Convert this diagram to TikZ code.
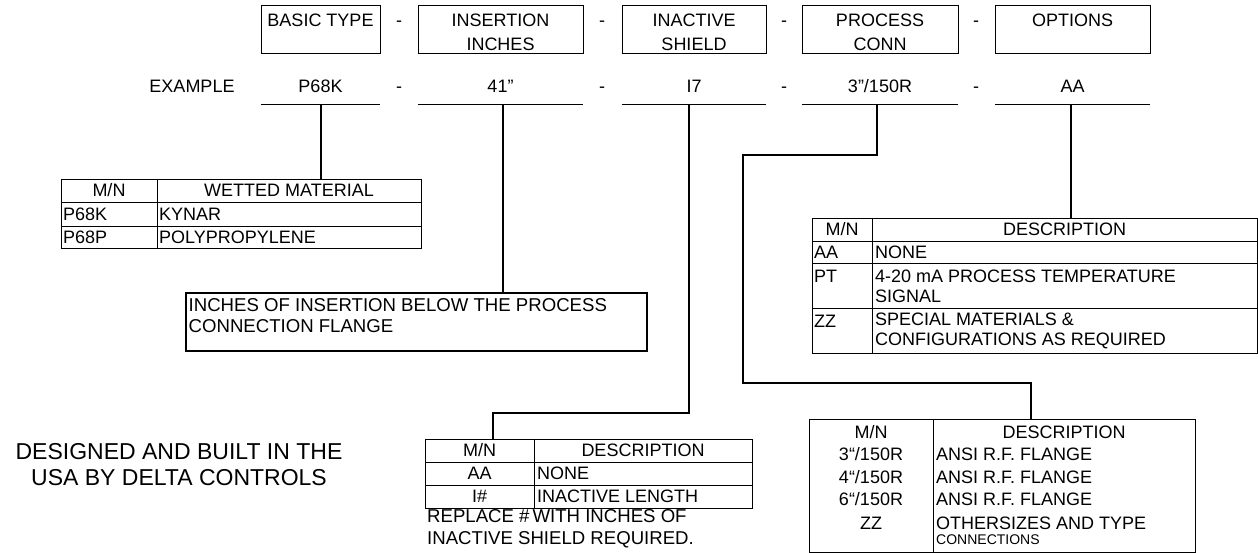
\documentclass[tikz,border=0pt]{standalone}
\usepackage{fontspec}
\setmainfont{Liberation Sans}
\usetikzlibrary{calc,positioning}
\tikzset{
  gridline/.style={draw=black,line width=0.9pt},
  leadline/.style={draw=black,line width=1.8pt},
  hdrtext/.style={font=\fontsize{18}{24}\selectfont,align=center,inner sep=0pt},
  celltext/.style={font=\fontsize{18}{20.5}\selectfont,inner sep=0pt},
  smalltext/.style={font=\fontsize{14}{16}\selectfont,inner sep=0pt},
}
% one code column: name, left x, right x, heading, example value, lead x
\newcommand{\codecol}[6]{%
  \draw[gridline] (#2,5) rectangle (#3,53);
  \node[hdrtext,anchor=north] (#1head) at ({(#2+#3)/2},13.5) {#4};
  \node[hdrtext] (#1val) at ({(#2+#3)/2},86) {#5};
  \draw[gridline] (#2,104) -- (#3,104);
  \coordinate (#1) at (#6,104);
}
\newcommand{\dashsep}[2]{%
  \node[hdrtext,anchor=base] (#1a) at (#2,26.5) {-};
  \node[hdrtext,anchor=base] (#1b) at (#2,92.5) {-};}
\newcommand{\cellc}[4]{\node[celltext] (#1) at (#2,#3) {#4};}
\newcommand{\celll}[4]{\node[celltext,anchor=west,align=left] (#1) at (#2,#3) {#4};}

\begin{document}
\begin{tikzpicture}[x=1pt,y=-1pt]
  \useasboundingbox (0,0) rectangle (1258,553);

  % model code line
  \codecol{basic}{261}{380}{BASIC TYPE}{P68K}{321}
  \codecol{ins}{418}{583}{INSERTION\\INCHES}{41”}{503}
  \codecol{inact}{622}{766}{INACTIVE\\SHIELD}{I7}{689}
  \codecol{proc}{802}{958}{PROCESS\\CONN}{3”/150R}{877}
  \codecol{opt}{995}{1150}{OPTIONS}{AA}{1071}
  \dashsep{d1}{399}\dashsep{d2}{602}\dashsep{d3}{784}\dashsep{d4}{976}
  \node[hdrtext] (example) at (192,86) {EXAMPLE};

  % wetted material
  \draw[gridline] (61,179) rectangle (421,248);
  \draw[gridline] (61,202) -- (421,202) (61,226) -- (421,226) (157,179) -- (157,248);
  \coordinate (wettop) at (321,179);
  \cellc{w1}{109}{190.5}{M/N}\cellc{w2}{289}{190.5}{WETTED MATERIAL}
  \celll{w3}{63}{214}{P68K}\celll{w4}{159}{214}{KYNAR}
  \celll{w5}{63}{237}{P68P}\celll{w6}{159}{237}{POLYPROPYLENE}

  % insertion note
  \draw[leadline] (186,293) rectangle (647,351);
  \coordinate (instop) at (503,293);
  \node[celltext,anchor=north west,align=left,font=\fontsize{18.6}{21}\selectfont] (insnote) at (188.5,298.5)
    {INCHES OF INSERTION BELOW THE PROCESS\\CONNECTION FLANGE};

  % inactive shield
  \draw[gridline] (425,439) rectangle (752,508);
  \draw[gridline] (425,462) -- (752,462) (425,485) -- (752,485) (534,439) -- (534,508);
  \coordinate (inacttop) at (493,439);
  \coordinate (inactjog) at (493,413);
  \cellc{i1}{479.5}{450.5}{M/N}\cellc{i2}{643}{450.5}{DESCRIPTION}
  \cellc{i3}{479.5}{473.5}{AA}\celll{i4}{537}{473.5}{NONE}
  \cellc{i5}{479.5}{496.5}{I\#}\celll{i6}{537}{496.5}{INACTIVE LENGTH}
  \node[celltext,anchor=west,align=left,font=\fontsize{18.6}{22}\selectfont] (inactnote) at (427,529)
    {REPLACE \#\,WITH INCHES OF\\INACTIVE SHIELD REQUIRED.};

  % process connection
  \draw[gridline] (809,419) rectangle (1195,552);
  \draw[gridline] (933,419) -- (933,552);
  \coordinate (proctop) at (1031,419);
  \coordinate (procjog1) at (743,155);
  \coordinate (procjog2) at (1031,383);
  \cellc{p1}{871}{432}{M/N}\cellc{p2}{1064}{432}{DESCRIPTION}
  \cellc{p3}{871}{454}{3“/150R}\celll{p4}{936}{454}{ANSI R.F. FLANGE}
  \cellc{p5}{871}{477}{4“/150R}\celll{p6}{936}{477}{ANSI R.F. FLANGE}
  \cellc{p7}{871}{499}{6“/150R}\celll{p8}{936}{499}{ANSI R.F. FLANGE}
  \cellc{p9}{871}{523}{ZZ}\celll{p10}{936}{523}{OTHERSIZES AND TYPE}
  \node[smalltext,anchor=west] (p11) at (936,540) {CONNECTIONS};

  % options
  \draw[gridline] (812,218) rectangle (1257,353);
  \draw[gridline] (812,241) -- (1257,241) (812,263) -- (1257,263) (812,308) -- (1257,308)
    (872,218) -- (872,353);
  \coordinate (opttop) at (1071,218);
  \cellc{o1}{842}{229.5}{M/N}\cellc{o2}{1064.5}{229.5}{DESCRIPTION}
  \celll{o3}{814}{252}{AA}\celll{o4}{875}{252}{NONE}
  \celll{o5}{814}{276}{PT}\celll{o6}{875}{286.5}{4-20 mA PROCESS TEMPERATURE\\SIGNAL}
  \celll{o7}{814}{321}{ZZ}\celll{o8}{875}{331}{SPECIAL MATERIALS \&\\CONFIGURATIONS AS REQUIRED}

  % maker
  \node[hdrtext,font=\fontsize{23}{26}\selectfont] (maker) at (179,465)
    {DESIGNED AND BUILT IN THE\\USA BY DELTA CONTROLS};

  % leads
  \draw[leadline] (basic) -- (wettop);
  \draw[leadline] (ins) -- (instop);
  \draw[leadline] (inact) |- (inactjog) -- (inacttop);
  \draw[leadline] (proc) |- (procjog1) |- (procjog2) -- (proctop);
  \draw[leadline] (opt) -- (opttop);
\end{tikzpicture}
\end{document}
